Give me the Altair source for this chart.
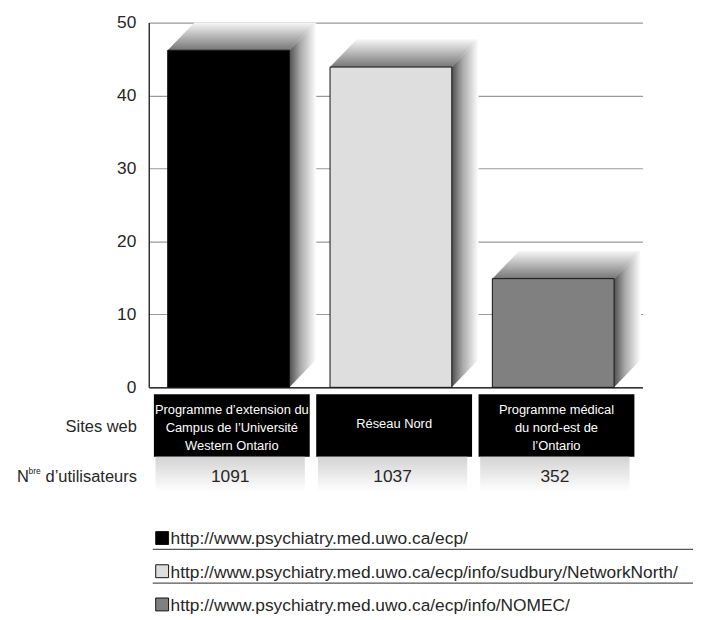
import altair as alt
import pandas as pd

# ---------------- data ----------------
sites = [
    "Programme d’extension du\nCampus de l’Université\nWestern Ontario",
    "Réseau Nord",
    "Programme médical\ndu nord-est de\nl’Ontario",
]
values = [46.2, 43.9, 14.9]
users = [1091, 1037, 352]
urls = [
    "http://www.psychiatry.med.uwo.ca/ecp/",
    "http://www.psychiatry.med.uwo.ca/ecp/info/sudbury/NetworkNorth/",
    "http://www.psychiatry.med.uwo.ca/ecp/info/NOMEC/",
]
colors = ["#000000", "#dedede", "#808080"]
y_ticks = [0, 10, 20, 30, 40, 50]
row_label_sites = "Sites web"
row_label_users = "d’utilisateurs"

FONT = "Liberation Sans, Arial, sans-serif"
TXT = "#262626"

# ---------------- geometry (styling) ----------------
W, H = 498, 368
HALF = 0.375          # half bar width in category units
DX, DY = 0.165, 3.8   # 3D depth (x in category units, y in value units)
LINE_H = 18.5
x_scale = alt.Scale(domain=[-0.4916, 2.5496], nice=False, zero=False)
y_scale = alt.Scale(domain=[0, 50], nice=False)

idx = list(range(len(values)))
bars = pd.DataFrame({"i": idx, "site": sites, "value": values,
                     "users": users, "url": urls, "color": colors})
bars["left"] = bars["i"] - HALF
bars["right"] = bars["i"] + HALF
bars["zero"] = 0
bars["bl"] = bars["i"] - 0.46
bars["br"] = bars["i"] + 0.50
bars["bc"] = bars["i"] + 0.02
bars["gl"] = bars["i"] - 0.45
bars["gr"] = bars["i"] + 0.47
bars["gc"] = bars["i"] + 0.01
# vertical centring of the multi-line labels inside the black cells
bars["nlines"] = bars["site"].str.count("\n") + 1
bars["ty"] = 409 - (bars["nlines"] - 1) * LINE_H / 2 - 4 * (bars["nlines"] == 1)

top_rows, side_rows = [], []
for i, v in zip(idx, values):
    L, R = i - HALF, i + HALF
    top_rows += [
        {"bar": i, "x": L, "y": v, "y2": v},
        {"bar": i, "x": L + DX, "y": v + DY, "y2": v},
        {"bar": i, "x": R, "y": v + DY, "y2": v},
        {"bar": i, "x": R + DX, "y": v + DY, "y2": v + DY},
    ]
    side_rows += [
        {"bar": i, "x": R, "y": v, "y2": 0},
        {"bar": i, "x": R + DX, "y": v + DY, "y2": DY},
    ]
top_df = pd.DataFrame(top_rows)
side_df = pd.DataFrame(side_rows)

grad_top = alt.Gradient(
    gradient="linear",
    stops=[alt.GradientStop(color="#f7f7f7", offset=0),
           alt.GradientStop(color="#767676", offset=1)],
    x1=0, x2=0, y1=0, y2=1)
grad_side = alt.Gradient(
    gradient="linear",
    stops=[alt.GradientStop(color="#4f4f4f", offset=0),
           alt.GradientStop(color="#a8a8a8", offset=0.4),
           alt.GradientStop(color="#ffffff", offset=1)],
    x1=0, x2=1, y1=0, y2=0)
grad_cell = alt.Gradient(
    gradient="linear",
    stops=[alt.GradientStop(color="#d3d3d3", offset=0),
           alt.GradientStop(color="#ffffff", offset=1)],
    x1=0, x2=0, y1=0, y2=1)

x_axis = alt.Axis(labels=False, ticks=False, grid=False, title=None,
                  domainColor="#333333", domainWidth=1.5)
y_axis = alt.Axis(values=y_ticks, ticks=False, title=None, labelFont=FONT,
                  labelFontSize=17.5, labelColor=TXT, labelPadding=13,
                  domainColor="#333333", domainWidth=1.5,
                  gridColor="#9a9a9a", gridWidth=1.2)

tops = alt.Chart(top_df).mark_area(color=grad_top, interpolate="linear").encode(
    x=alt.X("x:Q", scale=x_scale, axis=x_axis),
    y=alt.Y("y:Q", scale=y_scale, axis=y_axis),
    y2="y2:Q",
    detail="bar:N",
)
sides = alt.Chart(side_df).mark_area(color=grad_side, interpolate="linear").encode(
    x=alt.X("x:Q", scale=x_scale),
    y=alt.Y("y:Q", scale=y_scale),
    y2="y2:Q",
    detail="bar:N",
)
bar_marks = alt.Chart(bars).mark_rect(stroke="#111111", strokeWidth=1).encode(
    x=alt.X("left:Q", scale=x_scale),
    x2="right:Q",
    y=alt.Y("value:Q", scale=y_scale),
    y2="zero:Q",
    color=alt.Color("color:N", scale=None),
)

# ------------- table below the plot -------------
site_boxes = alt.Chart(bars).mark_rect(color="#000000").encode(
    x=alt.X("bl:Q", scale=x_scale), x2="br:Q",
    y=alt.value(375), y2=alt.value(438),
)
user_boxes = alt.Chart(bars).mark_rect(color=grad_cell).encode(
    x=alt.X("gl:Q", scale=x_scale), x2="gr:Q",
    y=alt.value(438), y2=alt.value(473),
)
site_text = alt.Chart(bars).mark_text(
    color="white", font=FONT, fontSize=13, lineBreak="\n", lineHeight=LINE_H,
    align="center", baseline="middle").encode(
    x=alt.X("bc:Q", scale=x_scale), y=alt.Y("ty:Q", scale=None), text="site:N")
user_text = alt.Chart(bars).mark_text(
    color=TXT, font=FONT, fontSize=17.5, align="center", baseline="middle").encode(
    x=alt.X("gc:Q", scale=x_scale), y=alt.value(458), text="users:Q")

labels_df = pd.DataFrame({
    "t": [row_label_sites, row_label_users, "N", "bre"],
    "px": [-12, -12, -121, -109],
    "py": [408, 458, 458, 452],
    "fs": [16.6, 16.6, 16.6, 8.5],
})
row_labels = alt.Chart(labels_df).mark_text(
    color=TXT, font=FONT, align="right", baseline="middle").encode(
    x=alt.X("px:Q", scale=None), y=alt.Y("py:Q", scale=None),
    text="t:N", size=alt.Size("fs:Q", scale=None))

# ------------- legend -------------
leg = bars.copy()
leg["ly"] = 520 + 33.5 * leg["i"]
leg["ty"] = leg["ly"] + 1.5
leg["sx"] = 13.5
leg["tx"] = 22
leg_sq = alt.Chart(leg).mark_square(size=169, stroke="#111111", strokeWidth=1,
                                    opacity=1).encode(
    x=alt.X("sx:Q", scale=None), y=alt.Y("ly:Q", scale=None),
    fill=alt.Fill("color:N", scale=None))
leg_txt = alt.Chart(leg).mark_text(color=TXT, font=FONT, fontSize=17.5,
                                   align="left", baseline="middle").encode(
    x=alt.X("tx:Q", scale=None), y=alt.Y("ty:Q", scale=None), text="url:N")
sep = pd.DataFrame({"sy": [531.5, 565.5], "x0": [4, 4], "x1": [549, 549]})
leg_sep = alt.Chart(sep).mark_rule(color="#555555", strokeWidth=1.3).encode(
    x=alt.X("x0:Q", scale=None), x2="x1:Q", y=alt.Y("sy:Q", scale=None))

chart = alt.layer(
    tops, sides, bar_marks,
    site_boxes, user_boxes, site_text, user_text, row_labels,
    leg_sep, leg_sq, leg_txt,
).properties(
    width=W, height=H,
    autosize=alt.AutoSizeParams(type="none"),
    padding={"left": 142, "top": 12, "right": 51, "bottom": 230},
).configure_view(stroke=None)

chart.save("out.html", embed_options={"renderer": "svg", "actions": False})
